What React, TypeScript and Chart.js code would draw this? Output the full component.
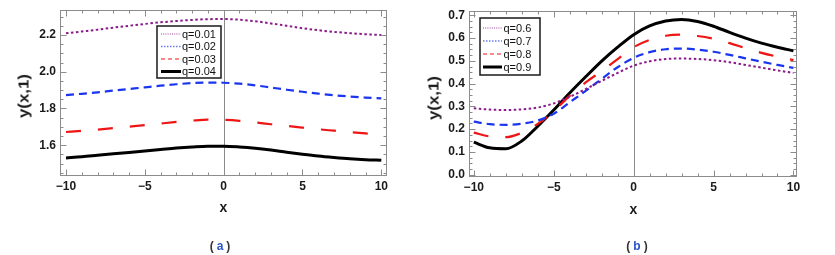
import React, { useEffect, useRef } from 'react';
import { Chart, registerables } from 'chart.js';
Chart.register(...registerables);

// ---------- data ----------
const X = [-10, -9, -8, -7, -6, -5, -4, -3, -2, -1, 0, 1, 2, 3, 4, 5, 6, 7, 8, 9, 10];

const A_Q001 = [2.209, 2.219, 2.229, 2.240, 2.250, 2.260, 2.269, 2.276, 2.282, 2.286, 2.287, 2.283, 2.275, 2.263, 2.250, 2.237, 2.226, 2.217, 2.210, 2.204, 2.200];
const A_Q002 = [1.873, 1.880, 1.888, 1.897, 1.906, 1.915, 1.924, 1.932, 1.938, 1.941, 1.940, 1.935, 1.926, 1.914, 1.902, 1.891, 1.881, 1.872, 1.865, 1.859, 1.855];
const A_Q003 = [1.672, 1.678, 1.685, 1.693, 1.701, 1.709, 1.718, 1.727, 1.734, 1.739, 1.738, 1.733, 1.724, 1.714, 1.705, 1.696, 1.687, 1.679, 1.671, 1.664, 1.658];
const A_Q004 = [1.531, 1.537, 1.545, 1.553, 1.561, 1.569, 1.577, 1.585, 1.591, 1.595, 1.595, 1.591, 1.584, 1.574, 1.562, 1.551, 1.541, 1.533, 1.526, 1.521, 1.518];

const B_Q06 = [0.292, 0.286, 0.284, 0.287, 0.295, 0.313, 0.342, 0.376, 0.412, 0.447, 0.479, 0.498, 0.508, 0.510, 0.508, 0.503, 0.494, 0.482, 0.470, 0.458, 0.447];
const B_Q07 = [0.233, 0.222, 0.219, 0.224, 0.238, 0.268, 0.318, 0.368, 0.421, 0.472, 0.513, 0.538, 0.551, 0.554, 0.549, 0.540, 0.526, 0.511, 0.496, 0.482, 0.469];
const B_Q08 = [0.185, 0.168, 0.165, 0.184, 0.223, 0.280, 0.346, 0.405, 0.455, 0.508, 0.560, 0.592, 0.610, 0.615, 0.609, 0.597, 0.578, 0.556, 0.535, 0.518, 0.503];
const B_Q09 = [0.143, 0.118, 0.114, 0.148, 0.213, 0.284, 0.359, 0.430, 0.499, 0.560, 0.615, 0.653, 0.675, 0.682, 0.673, 0.652, 0.625, 0.600, 0.578, 0.560, 0.544];

const LABELS_A = ['q=0.01', 'q=0.02', 'q=0.03', 'q=0.04'];
const LABELS_B = ['q=0.6', 'q=0.7', 'q=0.8', 'q=0.9'];

const X_TICKS = [-10, -5, 0, 5, 10];
const Y_TICKS_A = [1.6, 1.8, 2.0, 2.2];
const Y_TICKS_B = [0.0, 0.1, 0.2, 0.3, 0.4, 0.5, 0.6, 0.7];

// ---------- styles ----------
const STYLES = [
  { color: '#8a1a8a', width: 2, dash: [2.5, 2.5], legendWidth: 1, legendDash: [1, 1.2], legendColor: '#a040a0' },
  { color: '#1a35ee', width: 2.2, dash: [8, 5], legendWidth: 1.6, legendDash: [1.5, 1.5], legendColor: '#6a7cf0' },
  { color: '#ee1515', width: 2.2, dash: [15, 17], legendWidth: 1.2, legendDash: [4, 3], legendColor: '#ee1515' },
  { color: '#000000', width: 3, dash: [], legendWidth: 3, legendDash: [], legendColor: '#000000' },
];

const TICK_FONT = { family: 'Liberation Sans, Arial, sans-serif', size: 12, weight: 'bold' as const };

function range(a: number, b: number, step: number) {
  const out: number[] = [];
  const n = Math.round((b - a) / step);
  for (let i = 0; i <= n; i++) out.push(+(a + i * step).toFixed(4));
  return out;
}

type PanelCfg = {
  width: number;
  area: { left: number; right: number; top: number; bottom: number };
  xMin: number; xMax: number; yMin: number; yMax: number;
  yTicks: number[]; yMinor: number[]; xMinor: number[];
  series: number[][]; labels: string[];
  legend: { x0: number; y0: number; x1: number; y1: number; rows: number[]; lineX0: number; lineX1: number; textX: number };
};

function makePlugin(cfg: PanelCfg) {
  return {
    id: 'frameLegend',
    beforeDatasetsDraw(chart: any) {
      const { ctx, chartArea: ca, scales } = chart;
      const px = Math.round(scales.x.getPixelForValue(0)) + 0.5;
      ctx.save();
      ctx.strokeStyle = '#8a8a8a';
      ctx.lineWidth = 1;
      ctx.beginPath();
      ctx.moveTo(px, ca.top);
      ctx.lineTo(px, ca.bottom);
      ctx.stroke();
      ctx.restore();
    },
    afterDraw(chart: any) {
      const { ctx, chartArea: ca, scales } = chart;
      const xs = scales.x, ys = scales.y;
      ctx.save();
      ctx.strokeStyle = '#8c8c8c';
      ctx.lineWidth = 1;
      const L = Math.round(ca.left) + 0.5, R = Math.round(ca.right) - 0.5;
      const T = Math.round(ca.top) + 0.5, B = Math.round(ca.bottom) - 0.5;
      ctx.strokeRect(L, T, R - L, B - T);
      ctx.beginPath();
      const drawX = (v: number, len: number) => {
        const p = Math.round(xs.getPixelForValue(v)) + 0.5;
        ctx.moveTo(p, B); ctx.lineTo(p, B - len);
        ctx.moveTo(p, T); ctx.lineTo(p, T + len);
      };
      const drawY = (v: number, len: number) => {
        const p = Math.round(ys.getPixelForValue(v)) + 0.5;
        ctx.moveTo(L, p); ctx.lineTo(L + len, p);
        ctx.moveTo(R, p); ctx.lineTo(R - len, p);
      };
      cfg.xMinor.forEach(v => drawX(v, X_TICKS.includes(v) ? 6 : 3));
      cfg.yMinor.forEach(v => {
        const major = cfg.yTicks.some(t => Math.abs(t - v) < 1e-6);
        if (v >= cfg.yMin && v <= cfg.yMax) drawY(v, major ? 6 : 3);
      });
      ctx.stroke();

      // legend
      const lg = cfg.legend;
      ctx.fillStyle = '#ffffff';
      ctx.fillRect(lg.x0, lg.y0, lg.x1 - lg.x0, lg.y1 - lg.y0);
      ctx.strokeStyle = '#1a1a1a';
      ctx.lineWidth = 1.5;
      ctx.setLineDash([]);
      ctx.strokeRect(lg.x0, lg.y0, lg.x1 - lg.x0, lg.y1 - lg.y0);
      ctx.font = '11px "Liberation Sans", Arial, sans-serif';
      ctx.textBaseline = 'middle';
      ctx.textAlign = 'left';
      cfg.labels.forEach((lab, i) => {
        const st = STYLES[i];
        const y = lg.rows[i];
        ctx.beginPath();
        ctx.strokeStyle = st.legendColor;
        ctx.lineWidth = st.legendWidth;
        ctx.setLineDash(st.legendDash);
        ctx.moveTo(lg.lineX0, y);
        ctx.lineTo(lg.lineX1, y);
        ctx.stroke();
        ctx.setLineDash([]);
        ctx.fillStyle = '#111';
        ctx.fillText(lab, lg.textX, y + 0.5);
      });
      ctx.restore();
    },
  };
}

function Panel({ cfg, style }: { cfg: PanelCfg; style: React.CSSProperties }) {
  const ref = useRef<HTMLCanvasElement | null>(null);
  useEffect(() => {
    if (!ref.current) return;
    const { area, width } = cfg;
    const H = 255;
    const chart = new Chart(ref.current, {
      type: 'line',
      data: {
        datasets: cfg.series.map((s, i) => ({
          label: cfg.labels[i],
          data: X.map((x, j) => ({ x, y: s[j] })),
          borderColor: STYLES[i].color,
          borderWidth: STYLES[i].width,
          borderDash: STYLES[i].dash,
          pointRadius: 0,
          fill: false,
          cubicInterpolationMode: 'monotone' as const,
        })),
      },
      options: {
        responsive: false,
        maintainAspectRatio: false,
        animation: false,
        devicePixelRatio: 1,
        layout: { padding: { left: 0, top: area.top, right: width - area.right, bottom: 0 } },
        plugins: { legend: { display: false }, tooltip: { enabled: false } },
        scales: {
          x: {
            type: 'linear',
            min: cfg.xMin,
            max: cfg.xMax,
            grid: { display: false, drawTicks: false, tickLength: 0 },
            border: { display: false },
            afterBuildTicks: (s: any) => { s.ticks = X_TICKS.map(v => ({ value: v })); },
            afterFit: (s: any) => { s.height = H - area.bottom; s.paddingLeft = 0; s.paddingRight = 0; },
            ticks: {
              autoSkip: false, maxRotation: 0, padding: 3, color: '#1a1a1a', font: TICK_FONT,
              callback: (v: any) => (v < 0 ? '\u2212' + Math.abs(v) : String(v)),
            },
          },
          y: {
            type: 'linear',
            min: cfg.yMin,
            max: cfg.yMax,
            grid: { display: false, drawTicks: false, tickLength: 0 },
            border: { display: false },
            afterBuildTicks: (s: any) => { s.ticks = cfg.yTicks.map(v => ({ value: v })); },
            afterFit: (s: any) => { s.width = area.left; s.paddingTop = 0; s.paddingBottom = 0; },
            ticks: {
              autoSkip: false, padding: 4, color: '#1a1a1a', font: TICK_FONT,
              callback: (v: any) => Number(v).toFixed(1),
            },
          },
        },
      } as any,
      plugins: [makePlugin(cfg) as any],
    });
    return () => chart.destroy();
  }, [cfg]);
  return <canvas ref={ref} width={cfg.width} height={255} style={{ position: 'absolute', width: cfg.width, height: 255, ...style }} />;
}

const CFG_A: PanelCfg = {
  width: 417,
  area: { left: 60, right: 387, top: 10, bottom: 176 },
  xMin: -10.38, xMax: 10.36, yMin: 1.4325, yMax: 2.336,
  yTicks: Y_TICKS_A, yMinor: range(1.45, 2.3, 0.05), xMinor: range(-10, 10, 1),
  series: [A_Q001, A_Q002, A_Q003, A_Q004], labels: LABELS_A,
  legend: { x0: 157, y0: 26, x1: 221, y1: 78, rows: [34, 46.5, 59, 71.5], lineX0: 161, lineX1: 181, textX: 182 },
};

const CFG_B: PanelCfg = {
  width: 418,
  area: { left: 52, right: 380, top: 11, bottom: 177 },
  xMin: -10.3, xMax: 10.22, yMin: -0.01, yMax: 0.7188,
  yTicks: Y_TICKS_B, yMinor: range(0, 0.7, 0.025), xMinor: range(-10, 10, 1),
  series: [B_Q06, B_Q07, B_Q08, B_Q09], labels: LABELS_B,
  legend: { x0: 63, y0: 18, x1: 123, y1: 75, rows: [28, 41, 54, 67], lineX0: 66, lineX1: 85, textX: 86.5 },
};

const txt: React.CSSProperties = {
  position: 'absolute',
  fontFamily: '"Liberation Sans", Arial, sans-serif',
  fontWeight: 'bold',
  whiteSpace: 'nowrap',
  lineHeight: 1,
  color: '#1a1a1a',
};

function YTitle({ x, y }: { x: number; y: number }) {
  return (
    <div style={{ ...txt, left: x, top: y, fontSize: 15, transform: 'translate(-50%,-50%) rotate(-90deg) scaleX(1.12)' }}>
      y(x,1)
    </div>
  );
}
function XTitle({ x, y }: { x: number; y: number }) {
  return <div style={{ ...txt, left: x, top: y, fontSize: 14, transform: 'translate(-50%,-50%)' }}>x</div>;
}
function Caption({ x, y, letter }: { x: number; y: number; letter: string }) {
  return (
    <div style={{ ...txt, left: x, top: y, fontSize: 12, color: '#333', transform: 'translate(-50%,-50%)' }}>
      (<span style={{ color: '#2a55c8', margin: '0 3px' }}>{letter}</span>)
    </div>
  );
}

export default function App() {
  return (
    <div style={{ position: 'fixed', left: 0, top: 0, width: 835, height: 255, background: '#fff', overflow: 'hidden' }}>
      <Panel cfg={CFG_A} style={{ left: 0, top: 0 }} />
      <Panel cfg={CFG_B} style={{ left: 417, top: 0 }} />
      <YTitle x={22.5} y={96} />
      <YTitle x={432.5} y={98} />
      <XTitle x={223.5} y={206.5} />
      <XTitle x={633.5} y={209} />
      <Caption x={220} y={246} letter="a" />
      <Caption x={637} y={246} letter="b" />
    </div>
  );
}
